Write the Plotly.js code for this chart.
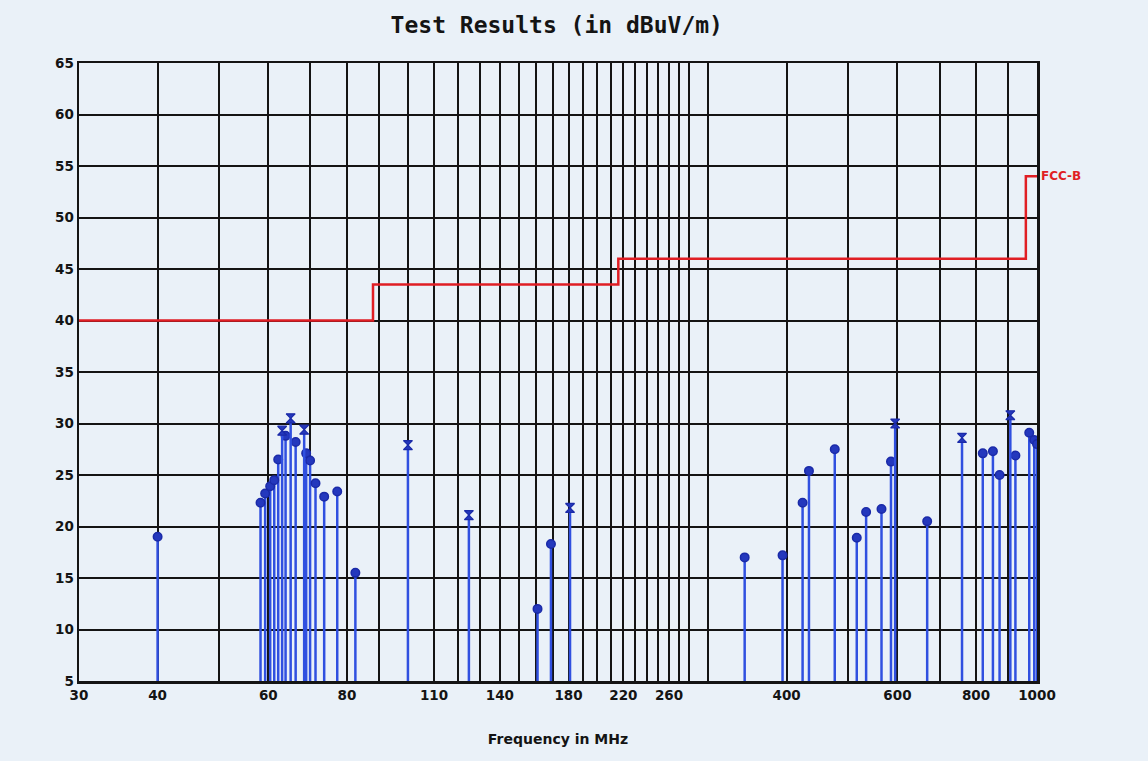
<!DOCTYPE html>
<html>
<head>
<meta charset="utf-8">
<script src="https://cdn.plot.ly/plotly-3.0.1.min.js"></script>
<style>
  html, body { margin: 0; padding: 0; background: #eaf1f8; }
  #chart { width: 1148px; height: 761px; }
</style>
</head>
<body>
<div id="chart"></div>
<script>
// Peak readings (MHz, dBuV/m) plotted with round markers
const peakFreq  = [40, 58.3, 59.3, 60.4, 61.3, 62.2, 63.9, 66.3, 68.9, 69.9, 71.3, 73.6, 77.2, 82.5,
                   160.7, 168.8, 343, 394, 424, 434, 477, 517, 535, 566, 586, 669,
                   820, 851, 872, 924, 972, 990, 1000];
const peakLevel = [19.0, 22.3, 23.2, 23.9, 24.5, 26.5, 28.8, 28.2, 27.1, 26.4, 24.2, 22.9, 23.4, 15.5,
                   12.0, 18.3, 17.0, 17.2, 22.3, 25.4, 27.5, 18.9, 21.4, 21.7, 26.3, 20.5,
                   27.1, 27.3, 25.0, 26.9, 29.1, 28.4, 28.0];

// Readings plotted with the "x" (hourglass) marker
const xFreq  = [63.1, 65.1, 68.4, 100, 125, 181, 595, 760, 907];
const xLevel = [29.3, 30.5, 29.4, 27.9, 21.1, 21.8, 30.0, 28.6, 30.8];

// FCC class B limit, stepped at each band edge
const limitFreq  = [30, 88, 216, 960, 1000];
const limitLevel = [40, 43.5, 46, 54, 54];

// Frequency grid and the gridlines that carry a label
const freqGrid = [30, 40, 50, 60, 70, 80, 90, 100, 110, 120, 130, 140, 150, 160, 170, 180, 190,
                  200, 210, 220, 230, 240, 250, 260, 270, 280, 300, 400, 500, 600, 700, 800, 900, 1000];
const freqLabels = [30, 40, 60, 80, 110, 140, 180, 220, 260, 400, 600, 800, 1000];

const levelFloor = 5;
const stemBlue = '#3050e0';
const markBlue = '#1a2aa8';
const ink = '#141414';

function stems(levels) {
  return {
    type: 'data', symmetric: false,
    array: levels.map(() => 0),
    arrayminus: levels.map(v => v - levelFloor),
    width: 0, thickness: 2.5, color: stemBlue
  };
}

const traces = [
  {
    x: limitFreq, y: limitLevel, type: 'scatter', mode: 'lines',
    line: { color: '#e01e24', width: 2.5, shape: 'hv' },
    hoverinfo: 'skip'
  },
  {
    x: peakFreq, y: peakLevel, type: 'scatter', mode: 'markers',
    marker: { symbol: 'circle', size: 8.5, color: '#2438bd', line: { color: markBlue, width: 1.5 } },
    error_y: stems(peakLevel)
  },
  {
    x: xFreq, y: xLevel, type: 'scatter', mode: 'markers',
    marker: { symbol: 'hourglass', size: 9, color: '#2438bd', line: { color: markBlue, width: 1.2 } },
    error_y: stems(xLevel)
  }
];

const tickFont = { family: 'DejaVu Sans', size: 13.5, color: ink, weight: 'bold' };

const layout = {
  width: 1148, height: 761,
  margin: { l: 79, r: 111, t: 63, b: 80, pad: 0 },
  paper_bgcolor: '#eaf1f8',
  plot_bgcolor: '#eaf1f8',
  showlegend: false,
  title: {
    text: 'Test Results (in dBuV/m)',
    font: { family: 'DejaVu Sans Mono', size: 23, color: ink, weight: 'bold' },
    x: 0.485, xanchor: 'center', xref: 'container',
    y: 1 - 25 / 761, yanchor: 'middle', yref: 'container'
  },
  xaxis: {
    type: 'log',
    range: [Math.log10(30), Math.log10(1000)],
    tickmode: 'array',
    tickvals: freqGrid,
    ticktext: freqGrid.map(f => freqLabels.includes(f) ? String(f) : ''),
    tickfont: tickFont,
    ticks: '', ticklabelstandoff: 0,
    showgrid: true, gridcolor: ink, gridwidth: 2,
    showline: true, linecolor: ink, linewidth: 2.5, mirror: true,
    zeroline: false,
    title: {
      text: 'Frequency in MHz',
      font: { family: 'DejaVu Sans', size: 14, color: ink, weight: 'bold' },
      standoff: 33
    }
  },
  yaxis: {
    range: [5, 65],
    tickmode: 'linear', tick0: 5, dtick: 5,
    tickfont: tickFont,
    ticks: '', ticklabelstandoff: 0,
    showgrid: true, gridcolor: ink, gridwidth: 2,
    showline: true, linecolor: ink, linewidth: 2.5, mirror: true,
    zeroline: false
  },
  annotations: [{
    x: Math.log10(limitFreq[limitFreq.length - 1]), y: limitLevel[limitLevel.length - 1],
    xref: 'x', yref: 'y', text: 'FCC-B', showarrow: false,
    xanchor: 'left', yanchor: 'middle', xshift: 2,
    font: { family: 'DejaVu Sans', size: 12, color: '#e01e24', weight: 'bold' }
  }]
};

Plotly.newPlot('chart', traces, layout, { staticPlot: true, displayModeBar: false });
</script>
</body>
</html>
